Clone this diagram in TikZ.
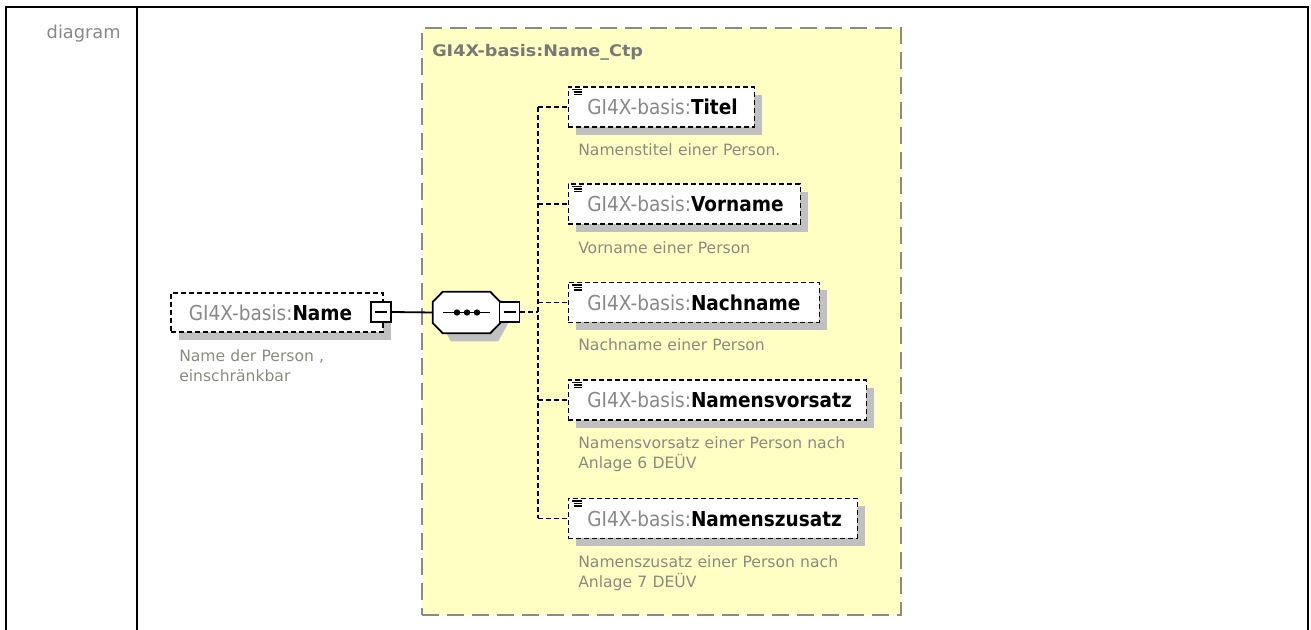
\documentclass[tikz,border=0pt]{standalone}
\usepackage{fontspec}
\setmainfont{DejaVu Sans}
\newfontfamily\lblfont{DejaVu Sans}[FakeStretch=0.9]
\newfontfamily\ttlfont{DejaVu Sans}[FakeStretch=1.1]
\usetikzlibrary{shadows,calc}
\definecolor{lblgray}{HTML}{888888}
\definecolor{descgray}{HTML}{8A8A80}
\definecolor{ttlgray}{HTML}{787878}
\definecolor{shgray}{HTML}{C0C0C0}
\definecolor{ctpfill}{HTML}{FFFFC4}
\definecolor{ctpborder}{HTML}{8A8A8A}
\tikzset{
  frameline/.style={line width=1.5pt,black},
  elbox/.style={draw=black,fill=white,line width=1.35pt,dash pattern=on 3.75pt off 2.25pt,
    inner xsep=0pt,inner ysep=0pt,minimum height=30pt,align=left,anchor=west,
    font=\lblfont\fontsize{15.4pt}{18pt}\selectfont,
    drop shadow={shadow xshift=6pt,shadow yshift=-6pt,fill=shgray,opacity=1,draw=none}},
  descnode/.style={anchor=base west,inner sep=0pt,text width=300pt,align=left,text=descgray,
    font=\fontsize{11.7pt}{15pt}\selectfont},
  minusbox/.style={draw=black,fill=white,line width=1.35pt,minimum width=15pt,minimum height=15pt,inner sep=0pt,
    path picture={\draw[line width=1.2pt] ($(path picture bounding box.west)+(4,0)$) -- ($(path picture bounding box.east)+(-4,0)$);}},
  solidconn/.style={line width=1.35pt,black},
  dashconn/.style={line width=1.35pt,black,dash pattern=on 3.5pt off 2.5pt},
  iconline/.style={line width=1.1pt,black}
}
\newcommand{\pre}{{\color{lblgray}GI4X-basis:}}
\begin{document}
\begin{tikzpicture}[x=0.75pt,y=-0.75pt]
\useasboundingbox (0,0) rectangle (1311,630);
% table frame
\draw[frameline] (6,630) -- (6,7) -- (1308,7) -- (1308,630);
\draw[frameline] (137,7) -- (137,630);
\node[anchor=base east,inner sep=0pt,text=lblgray,font=\fontsize{13.35pt}{15pt}\selectfont] (diaglbl) at (121,39) {diagram};
% complex type box
\node[draw=ctpborder,fill=ctpfill,line width=1.5pt,dash pattern=on 12.75pt off 6pt,
  minimum width=359.25pt,minimum height=440.25pt,anchor=north west,inner sep=0pt] (ctp) at (421,27) {};
\node[anchor=base west,inner sep=0pt,text=ttlgray,font=\ttlfont\bfseries\fontsize{12pt}{14pt}\selectfont] (ttl) at (432,57) {GI4X-basis:Name\_Ctp};
% Name element
\node[elbox,text width=159pt,minimum height=29.25pt] (name) at (170,312.5) {\hspace*{13.5pt}\pre\textbf{Name}};
\node[minusbox] (nameminus) at (381,312) {};
\node[descnode] (namedesc) at (179,362) {Name der Person ,\\einschränkbar};
% sequence compositor
\node[inner sep=0pt,minimum width=50.25pt,minimum height=30.75pt] (seq) at (466.5,312.5) {};
\fill[shgray] ($(seq.north west)+(18,8)$) -- ($(seq.north east)+(-2,8)$) -- ($(seq.east)+(8,-10.5)$)
  -- ($(seq.east)+(8,10.5)$) -- ($(seq.south east)+(-2,8)$) -- ($(seq.south west)+(18,8)$)
  -- ($(seq.west)+(8,10.5)$) -- ($(seq.west)+(8,-10.5)$) -- cycle;
\filldraw[fill=white,draw=black,line width=1.35pt] ($(seq.north west)+(10,0)$) -- ($(seq.north east)+(-10,0)$) -- ($(seq.east)+(0,-10.5)$)
  -- ($(seq.east)+(0,10.5)$) -- ($(seq.south east)+(-10,0)$) -- ($(seq.south west)+(10,0)$)
  -- ($(seq.west)+(0,10.5)$) -- ($(seq.west)+(0,-10.5)$) -- cycle;
\draw[line width=1.2pt] ($(seq.center)+(-23.5,0)$) -- ($(seq.center)+(23.5,0)$);
\foreach \dx in {-9.5,0.5,10.5} \fill ($(seq.center)+(\dx,0)$) circle[radius=2.4pt];
\node[minusbox] (seqminus) at (509.5,312) {};
% children
\node[elbox,text width=139.5pt] (titel) at (567.5,107) {\hspace*{14.25pt}\pre\textbf{Titel}};
\node[elbox,text width=174pt] (vorname) at (567.5,204) {\hspace*{14.25pt}\pre\textbf{Vorname}};
\node[elbox,text width=188.25pt] (nachname) at (567.5,302.5) {\hspace*{14.25pt}\pre\textbf{Nachname}};
\node[elbox,text width=223.5pt] (vorsatz) at (567.5,400) {\hspace*{14.25pt}\pre\textbf{Namensvorsatz}};
\node[elbox,text width=216.75pt] (zusatz) at (567.5,518.5) {\hspace*{14.25pt}\pre\textbf{Namenszusatz}};
\foreach \n in {titel,vorname,nachname,vorsatz,zusatz}{
  \draw[iconline] ($(\n.north west)+(4.5,3.5)$) -- ++(10,0);
  \draw[iconline] ($(\n.north west)+(6,6)$) -- ++(8.5,0);
  \draw[iconline] ($(\n.north west)+(6,8.5)$) -- ++(8.5,0);
}
\node[descnode] (titeldesc) at (578,156) {Namenstitel einer Person.};
\node[descnode] (vornamedesc) at (578,254) {Vorname einer Person};
\node[descnode] (nachnamedesc) at (578,351) {Nachname einer Person};
\node[descnode] (vorsatzdesc) at (578,449) {Namensvorsatz einer Person nach\\Anlage 6 DEÜV};
\node[descnode] (zusatzdesc) at (578,568) {Namenszusatz einer Person nach\\Anlage 7 DEÜV};
% connectors
\coordinate (trunk) at (538,312);
\draw[solidconn] (nameminus.east) -- (seq.west);
\draw[dashconn] (seqminus.east) -- (trunk);
\draw[dashconn] (trunk |- titel.west) -- (trunk |- zusatz.west);
\foreach \n in {titel,vorname,nachname,vorsatz,zusatz}{
  \draw[dashconn] (trunk |- \n.west) -- (\n.west);
}
\end{tikzpicture}
\end{document}
